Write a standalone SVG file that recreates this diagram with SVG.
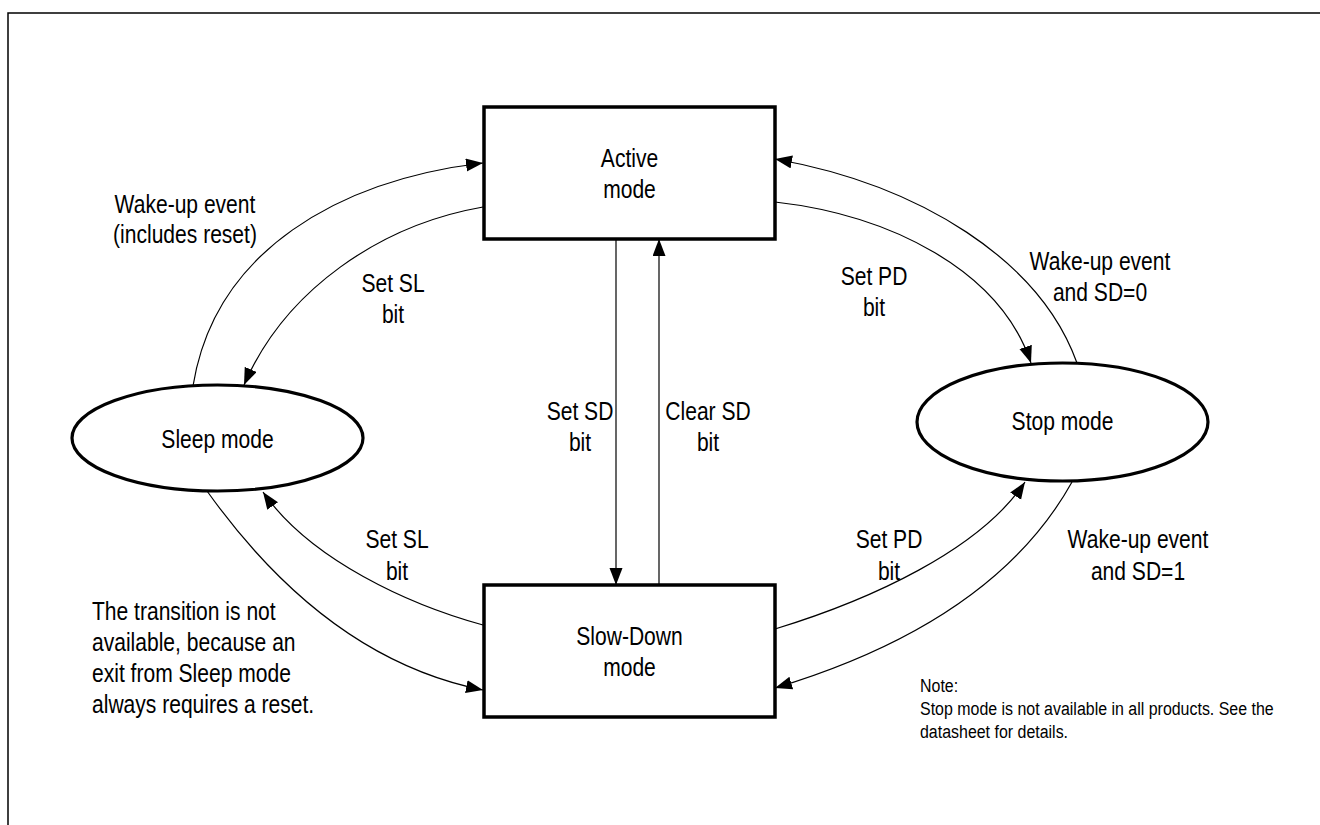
<svg xmlns="http://www.w3.org/2000/svg" width="1320" height="825" viewBox="0 0 1320 825">
<style>
.frame{stroke:#000;stroke-width:1.5;fill:none}
.box{fill:#fff;stroke:#000;stroke-width:3.5}
.ell{fill:#fff;stroke:#000;stroke-width:3.2}
.ca{fill:none;stroke:#000;stroke-width:1.2;marker-end:url(#ah)}
.t{font-family:"Liberation Sans",Arial,sans-serif;font-size:26px;fill:#000}
.n{font-family:"Liberation Sans",Arial,sans-serif;font-size:19px;fill:#000}
</style>
<defs>
<marker id="ah" markerUnits="userSpaceOnUse" markerWidth="18" markerHeight="14" refX="17" refY="6.5" orient="auto">
<path d="M0,0 L17,6.5 L0,13 z" fill="#000"/>
</marker>
</defs>
<rect width="1320" height="825" fill="#fff"/>
<path class="frame" d="M1320,13 H8 V825"/>
<g id="connectors">
<path class="ca" d="M193,386 C215,250 340,180 483,163"/>
<path class="ca" d="M483,207 C380,225 285,290 244,385"/>
<path class="ca" d="M775,202 C890,215 1000,270 1031,363"/>
<path class="ca" d="M1077,363 C1040,260 920,185 775,159"/>
<path class="ca" d="M616,239 V585"/>
<path class="ca" d="M659,585 V239"/>
<path class="ca" d="M483,625 C410,605 310,560 263,492"/>
<path class="ca" d="M207,491 Q327,659 483,690"/>
<path class="ca" d="M775,629 C870,600 980,550 1025,482"/>
<path class="ca" d="M1072,482 Q994,622 775,688"/>
</g>
<g id="active">
<rect class="box" x="484" y="107" width="291" height="132"/>
<text class="t" transform="translate(629.5,167) scale(0.81,1)" text-anchor="middle"><tspan x="0" y="0">Active</tspan><tspan x="0" y="31">mode</tspan></text>
</g>
<g id="slowdown">
<rect class="box" x="484" y="585" width="291" height="132"/>
<text class="t" transform="translate(629.5,645) scale(0.81,1)" text-anchor="middle"><tspan x="0" y="0">Slow-Down</tspan><tspan x="0" y="31">mode</tspan></text>
</g>
<g id="sleep">
<ellipse class="ell" cx="217.5" cy="438" rx="145.5" ry="53"/>
<text class="t" transform="translate(217.5,448) scale(0.81,1)" text-anchor="middle">Sleep mode</text>
</g>
<g id="stop">
<ellipse class="ell" cx="1062.5" cy="422" rx="145.5" ry="59"/>
<text class="t" transform="translate(1062.5,430) scale(0.81,1)" text-anchor="middle">Stop mode</text>
</g>
<g id="labels">
<text class="t" transform="translate(185,213) scale(0.81,1)" text-anchor="middle"><tspan x="0" y="0">Wake-up event</tspan><tspan x="0" y="30">(includes reset)</tspan></text>
<text class="t" transform="translate(393,292) scale(0.81,1)" text-anchor="middle"><tspan x="0" y="0">Set SL</tspan><tspan x="0" y="31">bit</tspan></text>
<text class="t" transform="translate(874,285) scale(0.81,1)" text-anchor="middle"><tspan x="0" y="0">Set PD</tspan><tspan x="0" y="31">bit</tspan></text>
<text class="t" transform="translate(1100,270) scale(0.81,1)" text-anchor="middle"><tspan x="0" y="0">Wake-up event</tspan><tspan x="0" y="31">and SD=0</tspan></text>
<text class="t" transform="translate(580,420) scale(0.81,1)" text-anchor="middle"><tspan x="0" y="0">Set SD</tspan><tspan x="0" y="31">bit</tspan></text>
<text class="t" transform="translate(708,420) scale(0.81,1)" text-anchor="middle"><tspan x="0" y="0">Clear SD</tspan><tspan x="0" y="31">bit</tspan></text>
<text class="t" transform="translate(397,548) scale(0.81,1)" text-anchor="middle"><tspan x="0" y="0">Set SL</tspan><tspan x="0" y="32">bit</tspan></text>
<text class="t" transform="translate(889,548) scale(0.81,1)" text-anchor="middle"><tspan x="0" y="0">Set PD</tspan><tspan x="0" y="32">bit</tspan></text>
<text class="t" transform="translate(1138,548) scale(0.81,1)" text-anchor="middle"><tspan x="0" y="0">Wake-up event</tspan><tspan x="0" y="32">and SD=1</tspan></text>
<text class="t" transform="translate(92,620) scale(0.81,1)"><tspan x="0" y="0">The transition is not</tspan><tspan x="0" y="31">available, because an</tspan><tspan x="0" y="62">exit from Sleep mode</tspan><tspan x="0" y="93">always requires a reset.</tspan></text>
<text class="n" transform="translate(920,692) scale(0.84,1)"><tspan x="0" y="0">Note:</tspan><tspan x="0" y="23">Stop mode is not available in all products. See the</tspan><tspan x="0" y="46">datasheet for details.</tspan></text>
</g>
</svg>
